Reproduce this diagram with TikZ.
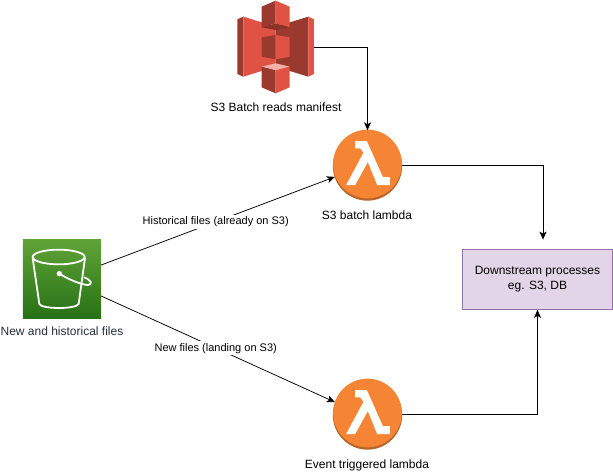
\documentclass[tikz,border=0pt]{standalone}
\usepackage{fontspec}
\setmainfont{Liberation Sans}
\usetikzlibrary{arrows.meta,positioning}
\definecolor{lamb}{HTML}{F58534}
\definecolor{lambd}{HTML}{B8652A}
\definecolor{redl}{HTML}{E05243}
\definecolor{redd}{HTML}{8C3123}
\definecolor{redm}{HTML}{9A3A2E}
\definecolor{redp}{HTML}{F2B0A9}
\definecolor{inktext}{HTML}{232F3E}
\definecolor{buckt}{HTML}{60A337}
\definecolor{buckb}{HTML}{277116}
\definecolor{procf}{HTML}{E1D5E7}
\definecolor{procd}{HTML}{9673A6}
\tikzset{
  x=1pt,y=-1pt,
  link/.style={draw=black,line width=0.75pt,-{Stealth[length=8pt,width=7pt,inset=2pt]}},
  lab/.style={font=\fontsize{12}{14}\selectfont,text=black,inner sep=1pt},
  edgelab/.style={inner ysep=1.5pt,inner xsep=0.5pt,text=black,fill=white,font=\fontsize{11}{13}\selectfont,text height=8.5pt,text depth=2.5pt},
  lambdaicon/.style={circle,inner sep=0pt,minimum size=69pt},
  anchorbox/.style={inner sep=0pt,minimum width=78pt,minimum height=78pt},
}
\newcommand{\lambdashape}[2]{%
  \begin{scope}[shift={(#1,#2)},x=0.3333pt,y=-0.3333pt]
    \fill[lambd] (0,0) circle[radius=104];
    \fill[lamb] (0,-6) circle[radius=103];
    \fill[white] (-37,-75) -- (-2,-75) -- (46,33) -- (67,33) -- (67,57) -- (29,57) -- (1,-12) -- (-37,57) -- (-64,57) -- (-12,-40) -- (-22,-53) -- (-37,-53) -- cycle;
  \end{scope}}
\begin{document}
\begin{tikzpicture}
\useasboundingbox (0,0) rectangle (613,474);
\fill[white] (0,0) rectangle (613,474);
% S3 manifest icon
\begin{scope}[shift={(220,0)},x=0.3333pt,y=-0.3333pt]
  \fill[redm] (52,58) -- (70,50) -- (70,230) -- (52,222) -- cycle;
  \fill[redl] (70,50) -- (167,80) -- (167,200) -- (70,230) -- cycle;
  \fill[redm] (167,80) -- (265,50) -- (265,230) -- (167,200) -- cycle;
  \fill[redl] (265,50) -- (282,58) -- (282,222) -- (265,230) -- cycle;
  \fill[redm] (125,20) -- (167,2) -- (167,70) -- (125,82) -- cycle;
  \fill[redl] (167,2) -- (209,20) -- (209,82) -- (167,70) -- cycle;
  \fill[redd] (125,82) -- (167,70) -- (209,82) -- (167,90) -- cycle;
  \fill[redm] (125,112) -- (167,105) -- (167,178) -- (125,170) -- cycle;
  \fill[redl] (167,105) -- (209,112) -- (209,170) -- (167,178) -- cycle;
  \fill[redm] (125,200) -- (167,210) -- (167,280) -- (125,262) -- cycle;
  \fill[redl] (167,210) -- (209,200) -- (209,262) -- (167,280) -- cycle;
  \fill[redp] (125,200) -- (167,190) -- (209,200) -- (167,210) -- cycle;
\end{scope}
\node[inner sep=0pt,minimum width=77pt,minimum height=93pt] (s3) at (275.5,47) {};
\node[lab] (s3lab) at (276,107) {S3 Batch reads manifest};
% Lambdas
\lambdashape{367.5}{166}
\node[lambdaicon] (batch) at (367.5,165) {};
\node[lab] (batchlab) at (367,215) {S3 batch lambda};
\lambdashape{367.5}{415}
\node[lambdaicon] (event) at (367.5,414) {};
\node[lab] (eventlab) at (367,465) {Event triggered lambda};
% Bucket
\node[anchorbox] (bucket) at (62,279) {};
\fill[top color=buckt,bottom color=buckb] (bucket.north west) rectangle (bucket.south east);
\begin{scope}[shift={(0,230)},x=0.3333pt,y=-0.3333pt]
  \draw[white,line width=1.8pt] (176,81) ellipse[x radius=78,y radius=22];
  \draw[white,line width=1.8pt,line join=round] (98,84) -- (118,222) .. controls (125,238) and (228,238) .. (236,222) -- (255,84);
  \draw[white,line width=1.8pt] (178,131) .. controls (205,148) and (245,165) .. (265,165) .. controls (278,162) and (275,150) .. (252,142);
  \fill[white] (178,131) circle[radius=8];
\end{scope}
\node[lab,text=inktext] (bucketlab) at (62,331) {New and historical files};
% Process box
\node[draw=procd,fill=procf,line width=0.75pt,minimum width=150pt,minimum height=60pt,inner sep=0pt,align=center,font=\fontsize{12}{15}\selectfont] (proc) at (537.5,279.5) {Downstream processes\\eg. S3, DB};
% Connectors
\draw[link] (s3.east) -| (batch.north);
\coordinate (b1) at ([yshift=14pt]bucket.east);
\coordinate (b2) at ([yshift=-17pt]bucket.east);
\draw[link] (b1) -- node[edgelab,pos=0.49]{Historical files (already on S3)} (batch.200);
\draw[link] (b2) -- node[edgelab,pos=0.49]{New files (landing on S3)} (event.160);
\coordinate (t1) at ([xshift=5.5pt,yshift=9.5pt]proc.north);
\draw[link] (batch.east) -| (t1);
\draw[link] (event.east) -| (proc.south);
\end{tikzpicture}
\end{document}
